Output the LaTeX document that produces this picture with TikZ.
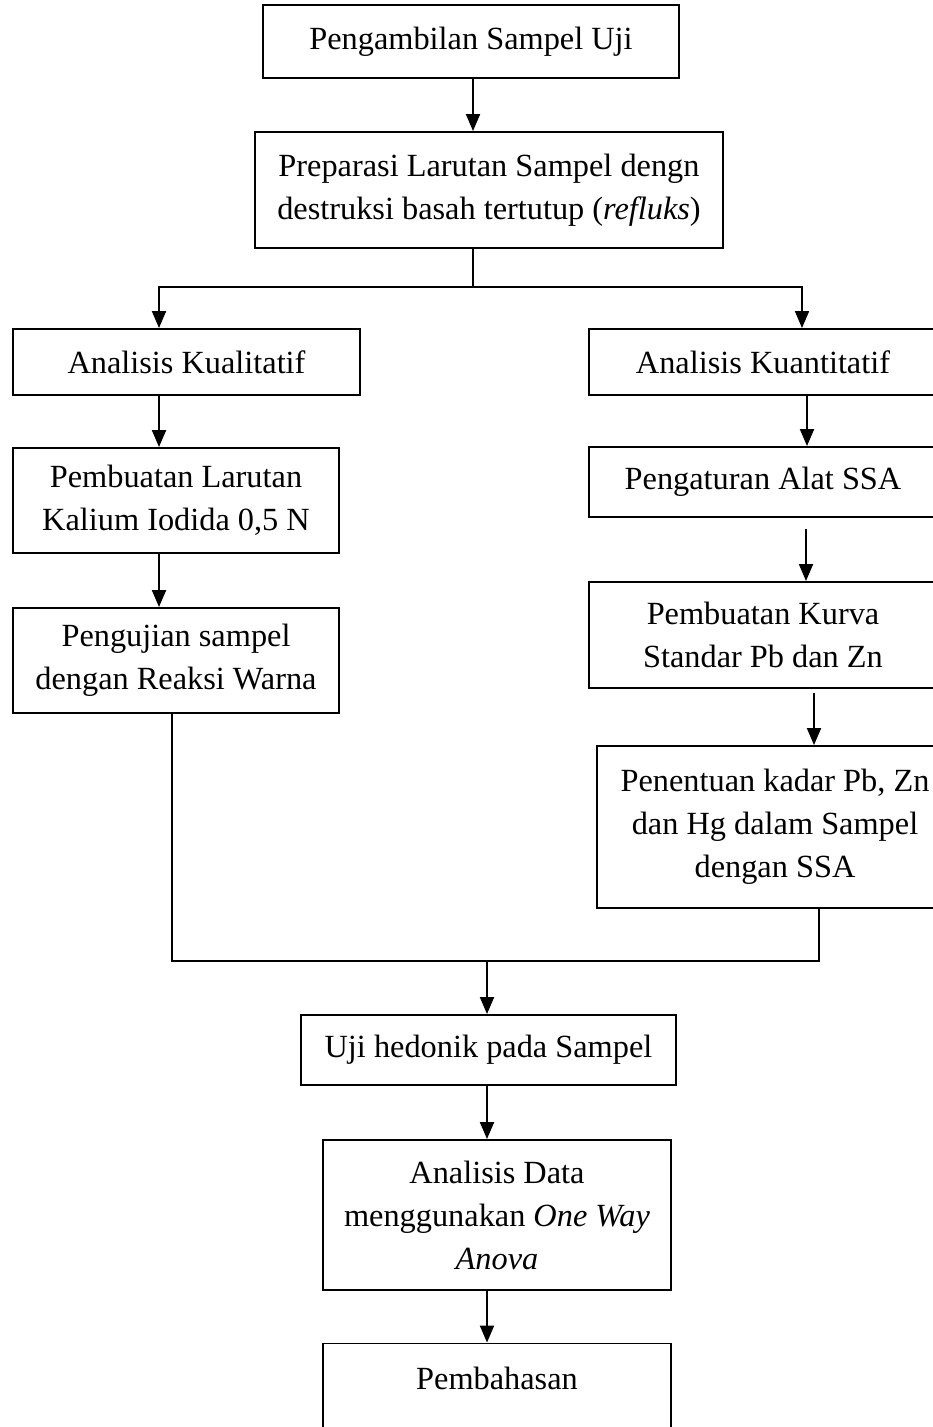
\documentclass[tikz,border=0pt]{standalone}
\usepackage{fontspec}
\setmainfont{Liberation Serif}
\usetikzlibrary{arrows.meta, positioning}

\tikzset{
  box/.style={draw, line width=1.1pt, align=center, inner sep=0pt, font=\fontsize{18.4}{24.5}\selectfont},
  arr/.style={-{Triangle[length=0.34cm, width=0.28cm]}, line width=1.1pt},
  ln/.style={line width=1.1pt}
}

\begin{document}
\begin{tikzpicture}[x=0.02cm, y=-0.02cm]
\useasboundingbox (0,0) rectangle (933,1427);
\node[box, minimum width=8.32cm, minimum height=1.46cm] (ambil) at (471,41.5) {Pengambilan Sampel Uji};
\node[box, minimum width=9.36cm, minimum height=2.32cm] (prep) at (489,190) {Preparasi Larutan Sampel dengn\\destruksi basah tertutup (\textit{refluks})};
\node[box, minimum width=6.94cm, minimum height=1.32cm] (kual) at (186.5,362) {Analisis Kualitatif};
\node[box, minimum width=6.96cm, minimum height=1.32cm] (kuan) at (763,362) {Analisis Kuantitatif};
\node[box, minimum width=6.52cm, minimum height=2.1cm] (larutan) at (176,500.5) {Pembuatan Larutan\\Kalium Iodida 0,5 N};
\node[box, minimum width=6.52cm, minimum height=2.1cm] (warna) at (176,660.5) {Pengujian sampel\\dengan Reaksi Warna};
\node[box, minimum width=6.96cm, minimum height=1.4cm] (alat) at (763,482) {Pengaturan Alat SSA};
\node[box, minimum width=6.96cm, minimum height=2.12cm] (kurva) at (763,635) {Pembuatan Kurva\\Standar Pb dan Zn};
\node[box, minimum width=7.12cm, minimum height=3.24cm] (kadar) at (775,827) {Penentuan kadar Pb, Zn\\dan Hg dalam Sampel\\dengan SSA};
\node[box, minimum width=7.5cm, minimum height=1.4cm] (hedonik) at (488.5,1050) {Uji hedonik pada Sampel};
\node[box, minimum width=6.96cm, minimum height=3cm] (anova) at (497,1215) {Analisis Data\\menggunakan \textit{One Way}\\\textit{Anova}};
\node[box, minimum width=6.96cm, minimum height=2.5cm] (bahas) at (497,1406) {Pembahasan\\\strut};

\coordinate (split) at (473,287);
\coordinate (la) at (159,287);
\coordinate (ra) at (802,287);
\coordinate (r1) at (807,0);
\coordinate (r2) at (806,0);
\coordinate (r3) at (814,0);
\coordinate (ml) at (172,961);
\coordinate (mr) at (819,961);
\coordinate (mrg) at (487,961);

\draw[arr] (ambil.south -| split) -- (prep.north -| split);
\draw[ln] (prep.south -| split) -- (split);
\draw[arr] (split) -- (la) -- (kual.north -| la);
\draw[arr] (split) -- (ra) -- (kuan.north -| ra);
\draw[arr] (kual.south -| la) -- (larutan.north -| la);
\draw[arr] (larutan.south -| la) -- (warna.north -| la);
\draw[arr] (kuan.south -| r1) -- (alat.north -| r1);
\draw[arr, shorten <=0.22cm] (alat.south -| r2) -- (kurva.north -| r2);
\draw[arr, shorten <=0.08cm] (kurva.south -| r3) -- (kadar.north -| r3);
\draw[ln] (warna.south -| ml) -- (ml) -- (mr) -- (kadar.south -| mr);
\draw[arr] (mrg) -- (hedonik.north -| mrg);
\draw[arr] (hedonik.south -| mrg) -- (anova.north -| mrg);
\draw[arr] (anova.south -| mrg) -- (bahas.north -| mrg);
\end{tikzpicture}
\end{document}
